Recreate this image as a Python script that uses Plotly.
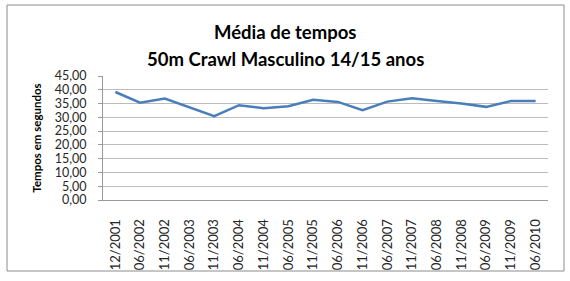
import plotly.graph_objects as go

# Competition dates (month/year) and average times in seconds
datas = ["12/2001", "06/2002", "11/2002", "06/2003", "11/2003", "06/2004",
         "11/2004", "06/2005", "11/2005", "06/2006", "11/2006", "06/2007",
         "11/2007", "06/2008", "11/2008", "06/2009", "11/2009", "06/2010"]
tempos = [39.2, 35.3, 36.8, 33.5, 30.4, 34.4, 33.3, 34.0, 36.4, 35.6,
          32.6, 35.7, 36.9, 35.9, 35.0, 33.8, 35.9, 35.9]
titulo = ["Média de tempos", "50m Crawl Masculino 14/15 anos"]

W, H = 570, 281
ML, MR, MT, MB = 103, 22, 76, 81
pw, ph = W - ML - MR, H - MT - MB

def px_x(x):
    return (x - ML) / pw

def px_y(y):
    return (H - MB - y) / ph

fig = go.Figure()
fig.add_trace(go.Scatter(
    x=datas, y=tempos, mode="lines",
    line=dict(color="#4a7ebb", width=2.5),
    hoverinfo="x+y",
))

font = "Lato, 'Open Sans', sans-serif"

fig.update_layout(
    width=W, height=H,
    margin=dict(l=ML, r=MR, t=MT, b=MB, pad=0),
    paper_bgcolor="white", plot_bgcolor="white",
    showlegend=False,
    separators=",.",
    font=dict(family=font, color="#262626"),
    xaxis=dict(
        type="category", tickangle=-90,
        showgrid=False, showline=True, linecolor="#9a9a9a", linewidth=1,
        ticks="", tickfont=dict(size=13, color="#262626"),
        ticklabelstandoff=13,
        range=[-0.5, len(datas) - 0.5], fixedrange=True,
    ),
    yaxis=dict(
        range=[0, 45], dtick=5, tickformat=".2f",
        showgrid=True, gridcolor="#bcbcbc", gridwidth=1,
        showline=True, linecolor="#9a9a9a", linewidth=1,
        ticks="outside", ticklen=4, tickcolor="#9a9a9a",
        tickfont=dict(size=12.5, color="#262626"),
        ticklabelstandoff=9,
        zeroline=False, fixedrange=True,
        title=dict(text="<b>Tempos em segundos</b>",
                   font=dict(size=11.5, color="#000000"), standoff=10),
    ),
)

# Two-line chart title, one annotation per line
for texto, yc in zip(titulo, (32, 59)):
    fig.add_annotation(
        text=f"<b>{texto}</b>", xref="paper", yref="paper",
        x=px_x(W / 2), y=px_y(yc), xanchor="center", yanchor="middle",
        showarrow=False, font=dict(size=18.5, color="#000000", family=font),
    )

# Outer chart frame
fig.add_shape(
    type="rect", xref="paper", yref="paper",
    x0=px_x(7), x1=px_x(564), y0=px_y(5), y1=px_y(271),
    line=dict(color="#8c8c8c", width=1), fillcolor="rgba(0,0,0,0)",
    layer="below",
)

fig.write_html("out.html")
